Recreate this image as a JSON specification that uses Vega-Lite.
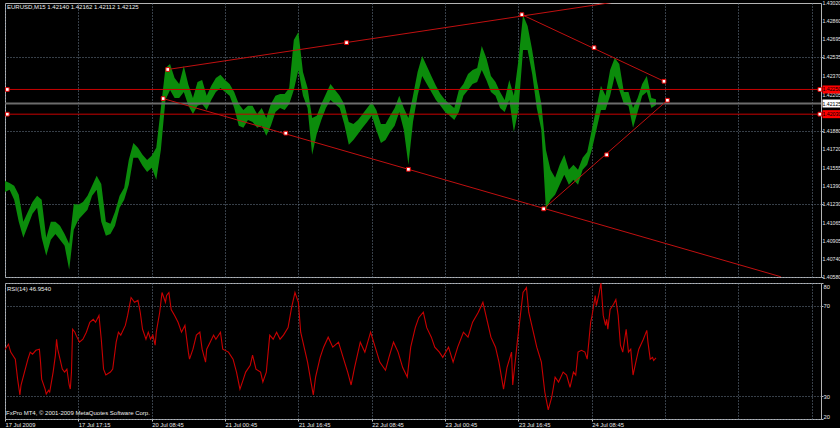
{
"$schema": "https://vega.github.io/schema/vega-lite/v6.json",
"background": "#000000",
"padding": {"left": 2, "top": 0, "right": 0, "bottom": 0},
"spacing": 1,
"config": {
 "view": {"stroke": "#b4b4b4", "strokeWidth": 1},
 "font": "Liberation Sans",
 "axis": {"labelFont": "Liberation Sans", "labelFontSize": 5.8, "labelColor": "#e6e6e6", "gridColor": "#6f7f90", "gridDash": [1, 2], "gridOpacity": 1, "gridWidth": 1, "tickColor": "#b4b4b4", "domain": false, "labelOverlap": false}
},
"datasets": {
 "price": [
  {"b":0,"h":1.41436,"l":1.41338},{"b":4,"h":1.41418,"l":1.41356},{"b":8,"h":1.41392,"l":1.41267},{"b":12,"h":1.41312,"l":1.41071},
  {"b":16,"h":1.41071,"l":1.40929},{"b":20,"h":1.4116,"l":1.41036},{"b":24,"h":1.41249,"l":1.41143},{"b":28,"h":1.41303,"l":1.41196},
  {"b":32,"h":1.41267,"l":1.40929},{"b":36,"h":1.40929,"l":1.40769},{"b":40,"h":1.41071,"l":1.40911},{"b":44,"h":1.41071,"l":1.40964},
  {"b":48,"h":1.41036,"l":1.40911},{"b":52,"h":1.40964,"l":1.40858},{"b":56,"h":1.40875,"l":1.40644},{"b":60,"h":1.41231,"l":1.41},
  {"b":64,"h":1.41223,"l":1.41089},{"b":68,"h":1.41249,"l":1.41134},{"b":72,"h":1.41303,"l":1.41178},{"b":76,"h":1.41392,"l":1.41303},
  {"b":80,"h":1.41481,"l":1.41356},{"b":84,"h":1.41409,"l":1.41071},{"b":88,"h":1.41071,"l":1.40947},{"b":92,"h":1.41054,"l":1.40964},
  {"b":96,"h":1.4116,"l":1.41036},{"b":100,"h":1.41303,"l":1.41196},{"b":104,"h":1.41374,"l":1.41267},{"b":108,"h":1.41623,"l":1.41401},
  {"b":112,"h":1.41774,"l":1.41641},{"b":116,"h":1.4173,"l":1.41641},{"b":120,"h":1.41668,"l":1.4157},{"b":124,"h":1.41623,"l":1.41516},
  {"b":128,"h":1.41659,"l":1.41552},{"b":132,"h":1.4173,"l":1.41445},{"b":136,"h":1.42086,"l":1.41712},{"b":140,"h":1.42442,"l":1.42157},
  {"b":144,"h":1.42477,"l":1.42246},{"b":148,"h":1.42353,"l":1.42175},{"b":152,"h":1.42299,"l":1.42175},{"b":156,"h":1.4246,"l":1.42228},
  {"b":160,"h":1.42291,"l":1.42104},{"b":164,"h":1.42175,"l":1.42032},{"b":168,"h":1.42317,"l":1.42104},{"b":172,"h":1.42335,"l":1.42121},
  {"b":176,"h":1.42193,"l":1.42068},{"b":180,"h":1.42282,"l":1.42157},{"b":184,"h":1.42353,"l":1.42228},{"b":188,"h":1.4238,"l":1.42264},
  {"b":192,"h":1.42335,"l":1.42228},{"b":196,"h":1.42299,"l":1.42193},{"b":200,"h":1.42228,"l":1.42086},{"b":204,"h":1.42121,"l":1.41926},
  {"b":208,"h":1.42068,"l":1.41908},{"b":212,"h":1.42104,"l":1.41979},{"b":216,"h":1.42104,"l":1.41961},{"b":220,"h":1.42032,"l":1.41908},
  {"b":224,"h":1.42086,"l":1.41926},{"b":228,"h":1.41997,"l":1.41837},{"b":232,"h":1.42121,"l":1.41926},{"b":236,"h":1.42193,"l":1.4205},
  {"b":240,"h":1.4221,"l":1.42086},{"b":244,"h":1.4221,"l":1.42068},{"b":248,"h":1.42264,"l":1.42121},{"b":252,"h":1.42691,"l":1.42246},
  {"b":256,"h":1.42762,"l":1.42424},{"b":260,"h":1.42406,"l":1.42193},{"b":264,"h":1.42264,"l":1.42086},{"b":268,"h":1.41997,"l":1.41668},
  {"b":272,"h":1.42015,"l":1.41854},{"b":276,"h":1.42121,"l":1.41979},{"b":280,"h":1.4221,"l":1.42086},{"b":284,"h":1.42299,"l":1.42157},
  {"b":288,"h":1.42246,"l":1.42121},{"b":292,"h":1.42193,"l":1.42086},{"b":296,"h":1.42121,"l":1.41943},{"b":300,"h":1.41961,"l":1.41757},
  {"b":304,"h":1.41943,"l":1.41801},{"b":308,"h":1.41979,"l":1.41854},{"b":312,"h":1.42032,"l":1.41908},{"b":316,"h":1.42086,"l":1.41961},
  {"b":320,"h":1.42139,"l":1.42015},{"b":324,"h":1.42068,"l":1.4189},{"b":328,"h":1.41943,"l":1.41774},{"b":332,"h":1.41943,"l":1.41801},
  {"b":336,"h":1.42015,"l":1.41872},{"b":340,"h":1.42086,"l":1.41926},{"b":344,"h":1.42193,"l":1.4205},{"b":348,"h":1.42086,"l":1.4189},
  {"b":352,"h":1.41997,"l":1.41579},{"b":356,"h":1.42193,"l":1.41961},{"b":360,"h":1.42406,"l":1.42193},{"b":364,"h":1.42549,"l":1.42371},
  {"b":368,"h":1.4246,"l":1.42299},{"b":372,"h":1.42371,"l":1.42228},{"b":376,"h":1.42282,"l":1.42157},{"b":380,"h":1.4221,"l":1.42104},
  {"b":384,"h":1.42157,"l":1.4205},{"b":388,"h":1.42121,"l":1.42015},{"b":392,"h":1.42086,"l":1.41979},{"b":396,"h":1.42246,"l":1.4205},
  {"b":400,"h":1.42299,"l":1.42193},{"b":404,"h":1.42388,"l":1.42246},{"b":408,"h":1.42424,"l":1.42299},{"b":412,"h":1.42442,"l":1.42317},
  {"b":416,"h":1.42638,"l":1.42424},{"b":420,"h":1.42531,"l":1.42335},{"b":424,"h":1.42371,"l":1.42228},{"b":428,"h":1.42317,"l":1.42193},
  {"b":432,"h":1.42228,"l":1.42086},{"b":436,"h":1.42157,"l":1.4205},{"b":440,"h":1.42335,"l":1.42157},{"b":444,"h":1.42193,"l":1.41872},
  {"b":448,"h":1.42513,"l":1.42068},{"b":452,"h":1.42913,"l":1.42602},{"b":456,"h":1.42816,"l":1.42602},{"b":460,"h":1.42602,"l":1.42388},
  {"b":464,"h":1.42335,"l":1.42086},{"b":468,"h":1.42121,"l":1.4189},{"b":472,"h":1.41712,"l":1.41178},{"b":476,"h":1.41534,"l":1.41267},
  {"b":480,"h":1.41463,"l":1.41312},{"b":484,"h":1.41579,"l":1.41401},{"b":488,"h":1.41668,"l":1.4149},{"b":492,"h":1.41534,"l":1.41401},
  {"b":496,"h":1.41579,"l":1.41445},{"b":500,"h":1.41534,"l":1.41401},{"b":504,"h":1.41641,"l":1.41534},{"b":508,"h":1.41694,"l":1.41579},
  {"b":512,"h":1.4189,"l":1.41712},{"b":516,"h":1.42086,"l":1.4189},{"b":520,"h":1.42282,"l":1.42068},{"b":524,"h":1.42193,"l":1.42068},
  {"b":528,"h":1.42424,"l":1.42193},{"b":532,"h":1.42531,"l":1.42371},{"b":536,"h":1.42477,"l":1.42246},{"b":540,"h":1.42228,"l":1.42121},
  {"b":544,"h":1.42228,"l":1.42104},{"b":548,"h":1.42086,"l":1.41908},{"b":552,"h":1.42175,"l":1.4205},{"b":556,"h":1.42299,"l":1.42193},
  {"b":560,"h":1.42371,"l":1.42228},{"b":564,"h":1.42175,"l":1.42086},{"b":568,"h":1.42162,"l":1.42112}
 ],
 "rsi": [
  {"b":0,"r":50.7},{"b":3,"r":53},{"b":5,"r":49.5},{"b":9,"r":46.4},{"b":11,"r":37.6},{"b":13,"r":30.6},{"b":14,"r":35},{"b":17,"r":40.7},
  {"b":20,"r":46.4},{"b":22,"r":49.5},{"b":24,"r":48.6},{"b":27,"r":50.3},{"b":30,"r":50.8},{"b":31,"r":45.1},{"b":32,"r":37.6},{"b":35,"r":33.2},
  {"b":36,"r":31},{"b":38,"r":32.7},{"b":39,"r":31.9},{"b":42,"r":40.7},{"b":44,"r":48.2},{"b":45,"r":55.2},{"b":46,"r":50.8},{"b":48,"r":46.4},
  {"b":50,"r":42},{"b":52,"r":40.7},{"b":54,"r":42},{"b":56,"r":35},{"b":57,"r":33.2},{"b":58,"r":40.7},{"b":59,"r":59.6},{"b":61,"r":58.3},
  {"b":62,"r":57},{"b":65,"r":53.9},{"b":68,"r":55.2},{"b":71,"r":58.3},{"b":74,"r":62.7},{"b":77,"r":64},{"b":79,"r":62.7},{"b":82,"r":65.7},
  {"b":84,"r":55.2},{"b":86,"r":42},{"b":88,"r":39.4},{"b":92,"r":40.7},{"b":94,"r":42},{"b":97,"r":53.9},{"b":99,"r":58.3},{"b":101,"r":57},
  {"b":105,"r":61.3},{"b":107,"r":65.7},{"b":110,"r":73.6},{"b":113,"r":71.5},{"b":116,"r":72.3},{"b":118,"r":67.1},{"b":120,"r":59.6},{"b":123,"r":55.2},
  {"b":125,"r":58.3},{"b":127,"r":55.2},{"b":129,"r":57},{"b":131,"r":52.6},{"b":132,"r":58.3},{"b":135,"r":67.1},{"b":137,"r":75.8},{"b":140,"r":71.5},
  {"b":141,"r":74.5},{"b":143,"r":75.8},{"b":145,"r":68.3},{"b":148,"r":65.7},{"b":151,"r":62.7},{"b":154,"r":58.3},{"b":157,"r":61.3},{"b":160,"r":49.5},
  {"b":161,"r":46.4},{"b":164,"r":50.8},{"b":167,"r":57},{"b":170,"r":58.3},{"b":172,"r":50.8},{"b":175,"r":45.1},{"b":176,"r":50.8},{"b":179,"r":53.9},
  {"b":182,"r":57},{"b":184,"r":55.2},{"b":188,"r":58.3},{"b":190,"r":50.8},{"b":195,"r":49.5},{"b":199,"r":46.4},{"b":202,"r":40.7},{"b":205,"r":33.2},
  {"b":208,"r":37.6},{"b":210,"r":40.7},{"b":214,"r":43.7},{"b":216,"r":48.2},{"b":219,"r":42},{"b":223,"r":40.7},{"b":225,"r":36.3},{"b":228,"r":40.7},
  {"b":231,"r":57},{"b":234,"r":55.2},{"b":237,"r":58.3},{"b":240,"r":55.2},{"b":243,"r":57},{"b":247,"r":60.3},{"b":250,"r":69},{"b":253,"r":75.8},
  {"b":256,"r":71.5},{"b":258,"r":58.3},{"b":262,"r":49.5},{"b":264,"r":45.1},{"b":267,"r":36.3},{"b":269,"r":30.6},{"b":271,"r":38.5},{"b":275,"r":47.2},
  {"b":278,"r":51.7},{"b":282,"r":56.1},{"b":286,"r":51.7},{"b":291,"r":53.9},{"b":295,"r":47.2},{"b":299,"r":40.7},{"b":302,"r":35},{"b":305,"r":42.7},
  {"b":310,"r":53.9},{"b":314,"r":49.5},{"b":319,"r":58.3},{"b":323,"r":51.7},{"b":327,"r":45.1},{"b":332,"r":41.5},{"b":335,"r":47.2},{"b":339,"r":53.9},
  {"b":343,"r":49.5},{"b":347,"r":42.7},{"b":351,"r":38.5},{"b":354,"r":51.7},{"b":358,"r":60.3},{"b":361,"r":64.7},{"b":365,"r":67.1},{"b":368,"r":60.3},
  {"b":372,"r":56.1},{"b":375,"r":51.7},{"b":379,"r":49.5},{"b":382,"r":47.2},{"b":387,"r":51.7},{"b":391,"r":45.1},{"b":395,"r":51.7},{"b":400,"r":58.3},
  {"b":404,"r":56.1},{"b":408,"r":62.7},{"b":413,"r":67.1},{"b":417,"r":71.5},{"b":421,"r":62.7},{"b":424,"r":56.1},{"b":428,"r":51.7},{"b":431,"r":45.1},
  {"b":435,"r":33.2},{"b":438,"r":42.7},{"b":442,"r":49.5},{"b":443,"r":35},{"b":447,"r":53.9},{"b":450,"r":67.1},{"b":452,"r":75.8},{"b":455,"r":78},
  {"b":457,"r":67.1},{"b":461,"r":58.3},{"b":464,"r":51.7},{"b":468,"r":45.1},{"b":471,"r":31.9},{"b":474,"r":24},{"b":477,"r":29.5},{"b":480,"r":38.5},
  {"b":483,"r":36.3},{"b":487,"r":40.7},{"b":490,"r":39.4},{"b":493,"r":34},{"b":496,"r":40.7},{"b":498,"r":39.4},{"b":500,"r":49.5},{"b":503,"r":50.3},
  {"b":506,"r":49.5},{"b":508,"r":46.4},{"b":511,"r":62.7},{"b":512,"r":64.9},{"b":515,"r":74.5},{"b":516,"r":70},{"b":518,"r":74.5},{"b":520,"r":80},
  {"b":522,"r":65.7},{"b":524,"r":61.3},{"b":525,"r":64},{"b":526,"r":59.6},{"b":528,"r":68.3},{"b":531,"r":70.6},{"b":533,"r":72.7},{"b":535,"r":65.7},
  {"b":537,"r":52.6},{"b":539,"r":49.5},{"b":542,"r":59.6},{"b":544,"r":49.5},{"b":546,"r":50.8},{"b":548,"r":39.4},{"b":551,"r":46.4},{"b":553,"r":50.8},
  {"b":557,"r":55.2},{"b":560,"r":59.1},{"b":561,"r":53.9},{"b":563,"r":46.4},{"b":565,"r":47.2},{"b":566,"r":45.8},{"b":568,"r":46.95}
 ],
 "trend": [
  {"b":142,"p":1.42428,"b2":557,"p2":1.43067},
  {"b":138,"p":1.42169,"b2":677,"p2":1.40582},
  {"b":470,"p":1.41187,"b2":578,"p2":1.42154},
  {"b":451,"p":1.42916,"b2":575,"p2":1.42323}
 ],
 "anchors": [
  {"b":142,"p":1.42428},{"b":298,"p":1.42667},{"b":451,"p":1.42916},{"b":138,"p":1.42169},{"b":245,"p":1.41861},
  {"b":352,"p":1.41539},{"b":470,"p":1.41187},{"b":525,"p":1.41668},{"b":578,"p":1.42154},{"b":514,"p":1.42622},
  {"b":575,"p":1.42323},{"b":2,"p":1.4225},{"b":2,"p":1.4203},{"b":711,"p":1.4225},{"b":711,"p":1.4203}
 ],
 "hlines": [
  {"p":1.4225,"kind":"level","label":"1.42250"},
  {"p":1.4203,"kind":"level","label":"1.42030"},
  {"p":1.42125,"kind":"bid","label":"1.42125"}
 ],
 "pricescale": [
  {"v":1.4058},{"v":1.4074},{"v":1.40905},{"v":1.41065},{"v":1.4123},{"v":1.4139},{"v":1.41555},{"v":1.4172},
  {"v":1.4188},{"v":1.4204},{"v":1.42205},{"v":1.4237},{"v":1.42535},{"v":1.42695},{"v":1.4286},{"v":1.4302}
 ]
},
"vconcat": [
 {
  "width": 816, "height": 274,
  "layer": [
   {"data": {"name": "price"},
    "mark": {"type": "area", "color": "#0b8c0b", "clip": true},
    "encoding": {
     "x": {"field": "b", "type": "quantitative", "scale": {"domain": [0, 712], "nice": false, "zero": false},
       "axis": {"title": null, "values": [0,16,32,48,64,80,96,112,128,144,160,176,192,208,224,240,256,272,288,304,320,336,352,368,384,400,416,432,448,464,480,496,512,528,544,560,576,592,608,624,640,656,672,688,704], "labels": false, "ticks": false, "grid": true}},
     "y": {"field": "h", "type": "quantitative", "scale": {"domain": [1.4058, 1.4302], "nice": false, "zero": false},
       "axis": {"title": null, "orient": "right", "values": [1.4058, 1.4074, 1.40905, 1.41065, 1.4123, 1.4139, 1.41555, 1.4172, 1.4188, 1.4204, 1.42205, 1.4237, 1.42535, 1.42695, 1.4286, 1.4302], "labels": false, "tickSize": 2, "grid": true}},
     "y2": {"field": "l"}
    }},
   {"data": {"name": "pricescale"},
    "mark": {"type": "text", "align": "left", "baseline": "middle", "dx": 1.5, "fontSize": 5.2, "color": "#e6e6e6", "font": "Liberation Sans"},
    "encoding": {"x": {"datum": 712}, "y": {"field": "v", "type": "quantitative"}, "text": {"field": "v", "type": "quantitative", "format": ".5f"}}},
   {"data": {"name": "hlines"}, "transform": [{"filter": "datum.kind == 'bid'"}],
    "mark": {"type": "rule", "color": "#6c6c6c", "strokeWidth": 2},
    "encoding": {"y": {"field": "p", "type": "quantitative"}}},
   {"data": {"name": "hlines"}, "transform": [{"filter": "datum.kind == 'level'"}],
    "mark": {"type": "rule", "color": "#c80000", "strokeWidth": 1},
    "encoding": {"y": {"field": "p", "type": "quantitative"}}},
   {"data": {"name": "trend"},
    "mark": {"type": "rule", "color": "#c01010", "strokeWidth": 1, "clip": true},
    "encoding": {"x": {"field": "b", "type": "quantitative"}, "y": {"field": "p", "type": "quantitative"}, "x2": {"field": "b2"}, "y2": {"field": "p2"}}},
   {"data": {"name": "anchors"},
    "mark": {"type": "point", "shape": "square", "size": 14, "filled": true, "fill": "#ffffff", "stroke": "#e00000", "strokeWidth": 1, "opacity": 1},
    "encoding": {"x": {"field": "b", "type": "quantitative"}, "y": {"field": "p", "type": "quantitative"}}},
   {"data": {"name": "hlines"},
    "mark": {"type": "rule", "strokeWidth": 8},
    "encoding": {"x": {"datum": 713.3}, "x2": {"datum": 730}, "y": {"field": "p", "type": "quantitative"},
      "color": {"field": "kind", "type": "nominal", "scale": {"domain": ["level", "bid"], "range": ["#ff0000", "#ffffff"]}, "legend": null}}},
   {"data": {"name": "hlines"},
    "mark": {"type": "text", "align": "left", "baseline": "middle", "dx": 1.5, "fontSize": 5.2, "color": "#000000", "font": "Liberation Sans"},
    "encoding": {"x": {"datum": 712}, "y": {"field": "p", "type": "quantitative"}, "text": {"field": "label"}}},
   {"data": {"values": [{"t": "EURUSD,M15  1.42140 1.42162 1.42112 1.42125"}]},
    "mark": {"type": "text", "align": "left", "baseline": "top", "dx": 2, "dy": 1, "fontSize": 6, "color": "#ececec", "font": "Liberation Sans"},
    "encoding": {"x": {"datum": 0}, "y": {"datum": 1.4302}, "text": {"field": "t"}}}
  ]
 },
 {
  "width": 816, "height": 136,
  "layer": [
   {"data": {"name": "rsi"},
    "mark": {"type": "line", "color": "#c80000", "strokeWidth": 1.1, "clip": true},
    "encoding": {
     "x": {"field": "b", "type": "quantitative", "scale": {"domain": [0, 712], "nice": false, "zero": false},
       "axis": {"title": null, "values": [0,16,32,48,64,80,96,112,128,144,160,176,192,208,224,240,256,272,288,304,320,336,352,368,384,400,416,432,448,464,480,496,512,528,544,560,576,592,608,624,640,656,672,688,704],
         "grid": true, "labelAlign": "left", "labelFlush": false, "labelPadding": 0, "tickSize": 2, "labelOverlap": false,
         "tickColor": {"condition": {"test": "datum.value % 32 == 0 && datum.value <= 544", "value": "#c8c8c8"}, "value": "transparent"},
         "labelExpr": "(datum.value % 32 == 0 && datum.value <= 544) ? ['17 Jul 2009','17 Jul 09:15','17 Jul 17:15','20 Jul 00:45','20 Jul 08:45','20 Jul 16:45','21 Jul 00:45','21 Jul 08:45','21 Jul 16:45','22 Jul 00:45','22 Jul 08:45','22 Jul 16:45','23 Jul 00:45','23 Jul 08:45','23 Jul 16:45','24 Jul 00:45','24 Jul 08:45','24 Jul 16:45'][datum.value / 32] : ''"}},
     "y": {"field": "r", "type": "quantitative", "scale": {"domain": [20, 80], "nice": false, "zero": false},
       "axis": {"title": null, "orient": "right", "values": [20, 30, 70, 80], "format": "d", "labelFlush": true, "tickSize": 2, "labelPadding": 0, "labelOverlap": false, "grid": true}}
    }},
   {"data": {"values": [{"t": "RSI(14) 46.9540"}]},
    "mark": {"type": "text", "align": "left", "baseline": "top", "dx": 2, "dy": 3, "fontSize": 6, "color": "#ececec", "font": "Liberation Sans"},
    "encoding": {"x": {"datum": 0}, "y": {"datum": 80}, "text": {"field": "t"}}},
   {"data": {"values": [{"t": "FxPro MT4, © 2001-2009 MetaQuotes Software Corp."}]},
    "mark": {"type": "text", "align": "left", "baseline": "bottom", "dx": 1, "dy": -3, "fontSize": 6, "color": "#ececec", "font": "Liberation Sans"},
    "encoding": {"x": {"datum": 0}, "y": {"datum": 20}, "text": {"field": "t"}}}
  ]
 }
]
}
